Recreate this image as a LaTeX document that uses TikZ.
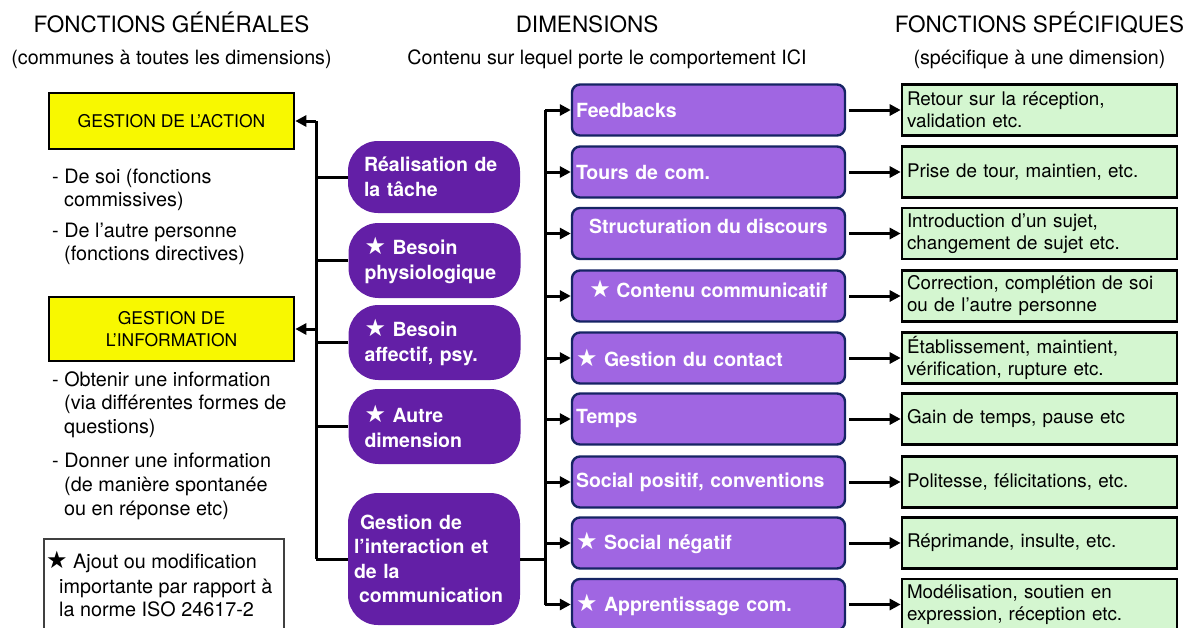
\documentclass[tikz,border=0pt]{standalone}
\usepackage{fontspec}
\setmainfont{TeX Gyre Heros}
\newfontfamily\symf{DejaVu Sans}
\usetikzlibrary{arrows.meta}
\newcommand{\stx}{{\symf\fontsize{24}{24}\selectfont ★}}
\definecolor{ylw}{RGB}{248,248,0}
\definecolor{dpurple}{RGB}{99,31,166}
\definecolor{lpurple}{RGB}{160,102,226}
\definecolor{navy}{RGB}{22,36,100}
\definecolor{lgreen}{RGB}{212,246,208}
\begin{document}
\begin{tikzpicture}[x=1pt,y=-1pt,
  ttl/.style={font=\fontsize{22.5}{27}\selectfont, anchor=base, inner sep=0},
  sub/.style={font=\fontsize{19.7}{24}\selectfont, anchor=base, inner sep=0},
  txt/.style={font=\fontsize{19.8}{24}\selectfont, anchor=base west, inner sep=0},
  ybox/.style={draw=black, line width=2.6pt, fill=ylw, minimum width=245, minimum height=56,
    font=\fontsize{17.5}{22}\selectfont, align=center, inner sep=0},
  dbox/.style={fill=dpurple, rounded corners=30, minimum width=172, minimum height=75,
    text width=140, inner xsep=16, inner ysep=0, align=left, text=white,
    font=\bfseries\fontsize{19.5}{24.5}\selectfont},
  lpbox/.style={draw=navy, line width=2.4pt, fill=lpurple, rounded corners=8,
    minimum width=273, minimum height=51, text width=265, inner xsep=4, inner ysep=0,
    align=left, text=white, font=\bfseries\fontsize{19.5}{24}\selectfont},
  lptxt/.style={text=white, font=\bfseries\fontsize{19.5}{24}\selectfont, inner sep=0},
  gbox/.style={draw=black, line width=2.6pt, fill=lgreen, minimum width=275, minimum height=51,
    text width=265, inner xsep=5, inner ysep=0, align=left, font=\fontsize{18.8}{22}\selectfont},
  ln/.style={line width=3pt},
  arr/.style={line width=3pt, -{Triangle[length=11pt,width=11pt]}}
]
\useasboundingbox (0,0) rectangle (1193,627);

% titles
\node[ttl] (t1) at (171.5,32) {FONCTIONS GÉNÉRALES};
\node[sub] (s1) at (171.5,64) {(communes à toutes les dimensions)};
\node[ttl] (t2) at (587,32) {DIMENSIONS};
\node[sub] (s2) at (607,64) {Contenu sur lequel porte le comportement ICI};
\node[ttl] (t3) at (1039.5,32) {FONCTIONS SPÉCIFIQUES};
\node[sub] (s3) at (1039.5,64) {(spécifique à une dimension)};

% general functions
\node[ybox] (g1) at (171.5,121) {GESTION DE L’ACTION};
\node[ybox, minimum height=64] (g2) at (171.5,329) {GESTION DE\\L’INFORMATION};

\node[txt] (a1) at (52,183) {- De soi (fonctions};
\node[txt] (a2) at (64,206) {commissives)};
\node[txt] (a3) at (52,237) {- De l’autre personne};
\node[txt] (a4) at (64,260) {(fonctions directives)};
\node[txt] (b1) at (52,386) {- Obtenir une information};
\node[txt] (b2) at (64,409) {(via différentes formes de};
\node[txt] (b3) at (64,433) {questions)};
\node[txt] (b4) at (52,467) {- Donner une information};
\node[txt] (b5) at (64,491) {(de manière spontanée};
\node[txt] (b6) at (64,515) {ou en réponse etc)};

% legend
\draw[line width=1.3pt, draw=black!75] (44,539) rectangle (284,660);
\node[txt] (l1) at (46,568) {\stx\ Ajout ou modification};
\node[txt] (l2) at (59,593) {importante par rapport à};
\node[txt] (l3) at (59,616) {la norme ISO 24617-2};

% dimensions (dark)
\node[dbox, minimum height=72] (d1) at (434,177) {Réalisation de\\la tâche};
\node[dbox] (d2) at (434.5,260.5) {\stx\ Besoin\\physiologique};
\node[dbox] (d3) at (434.5,342.5) {\stx\ Besoin\\affectif, psy.};
\node[dbox] (d4) at (434.5,426.5) {\stx\ Autre\\dimension};
\node[dbox, minimum height=132, text width=160, inner xsep=6] (d5) at (434,559)
  {\hspace*{6pt}Gestion de\\l’interaction et\\de la\\\hspace*{5pt}communication};

% dimensions (light)
\node[lpbox] (p1) at (708.5,110) {Feedbacks};
\node[lpbox] (p2) at (708.5,172) {Tours de com.};
\node[lpbox] (p3) at (708.5,233.5) {};
\node[lptxt] (p3t) at ([yshift=7.5pt]p3.center) {Structuration du discours};
\node[lpbox] (p4) at (708.5,296) {};
\node[lptxt] (p4t) at ([yshift=7pt]p4.center) {\stx\ Contenu communicatif};
\node[lpbox] (p5) at (708.5,358) {\stx\ Gestion du contact};
\node[lpbox] (p6) at (708.5,419) {Temps};
\node[lpbox] (p7) at (708.5,482) {Social positif, conventions};
\node[lpbox] (p8) at (708.5,543) {\stx\ Social négatif};
\node[lpbox] (p9) at (708.5,604.5) {\stx\ Apprentissage com.};

% specific functions
\node[gbox] (f1) at (1039.5,110) {Retour sur la réception,\\validation etc.};
\node[gbox] (f2) at (1039.5,172) {Prise de tour, maintien, etc.};
\node[gbox] (f3) at (1039.5,233.5) {Introduction d’un sujet,\\changement de sujet etc.};
\node[gbox] (f4) at (1039.5,296) {Correction, complétion de soi\\ou de l’autre personne};
\node[gbox] (f5) at (1039.5,358) {Établissement, maintient,\\vérification, rupture etc.};
\node[gbox] (f6) at (1039.5,419) {Gain de temps, pause etc};
\node[gbox] (f7) at (1039.5,482) {Politesse, félicitations, etc.};
\node[gbox] (f8) at (1039.5,543) {Réprimande, insulte, etc.};
\node[gbox] (f9) at (1039.5,604.5) {Modélisation, soutien en\\expression, réception etc.};

% left bus
\coordinate (lt) at (316,121);
\coordinate (lb) at (lt |- d5.west);
\draw[ln] (lt) -- (lb);
\draw[arr] (lt) -- (g1.east);
\draw[arr] (lt |- g2.east) -- (g2.east);
\foreach \n in {d1,d2,d3,d4,d5} \draw[ln] (lt |- \n.west) -- (\n.west);

% middle bus
\coordinate (mt) at (545,110);
\draw[ln] (d5.east) -- (d5.east -| mt);
\draw[ln] (mt) -- (mt |- p9.west);
\foreach \n in {p1,p2,p3,p4,p5,p6,p7,p8,p9} \draw[arr] (mt |- \n.west) -- (\n.west);

% right arrows
\foreach \a/\b in {p1/f1,p2/f2,p3/f3,p4/f4,p5/f5,p6/f6,p7/f7,p8/f8,p9/f9}
  \draw[arr] ([xshift=3pt]\a.east) -- (\b.west);
\end{tikzpicture}
\end{document}
